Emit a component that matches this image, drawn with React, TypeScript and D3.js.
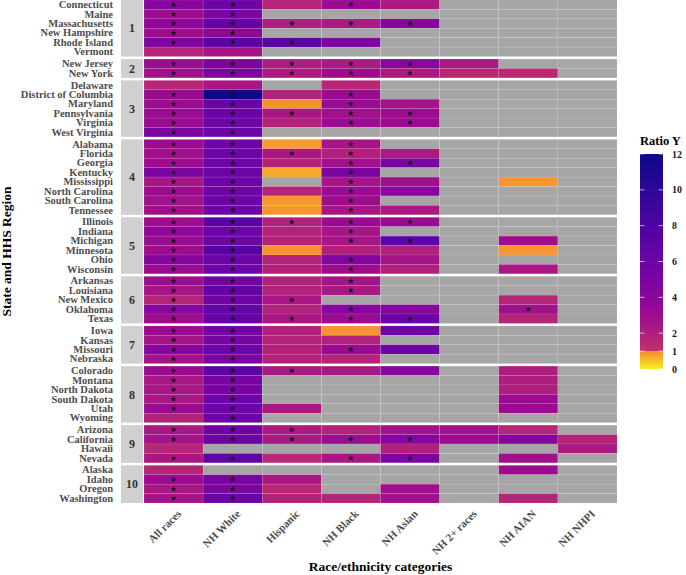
import React from 'react';
import * as d3 from 'd3';

const categories = ['All races', 'NH White', 'Hispanic', 'NH Black', 'NH Asian', 'NH 2+ races', 'NH AIAN', 'NH NHPI'];

const states = [
  'Connecticut', 'Maine', 'Massachusetts', 'New Hampshire', 'Rhode Island', 'Vermont',
  'New Jersey', 'New York',
  'Delaware', 'District of Columbia', 'Maryland', 'Pennsylvania', 'Virginia', 'West Virginia',
  'Alabama', 'Florida', 'Georgia', 'Kentucky', 'Mississippi', 'North Carolina', 'South Carolina', 'Tennessee',
  'Illinois', 'Indiana', 'Michigan', 'Minnesota', 'Ohio', 'Wisconsin',
  'Arkansas', 'Louisiana', 'New Mexico', 'Oklahoma', 'Texas',
  'Iowa', 'Kansas', 'Missouri', 'Nebraska',
  'Colorado', 'Montana', 'North Dakota', 'South Dakota', 'Utah', 'Wyoming',
  'Arizona', 'California', 'Hawaii', 'Nevada',
  'Alaska', 'Idaho', 'Oregon', 'Washington',
];

const regions = [
  1, 1, 1, 1, 1, 1,
  2, 2,
  3, 3, 3, 3, 3, 3,
  4, 4, 4, 4, 4, 4, 4, 4,
  5, 5, 5, 5, 5, 5,
  6, 6, 6, 6, 6,
  7, 7, 7, 7,
  8, 8, 8, 8, 8, 8,
  9, 9, 9, 9,
  10, 10, 10, 10,
];

// ratio values by column (null = no data)
const allRaces = [
  4.2, 3.0, 3.8, 3.0, 4.6, 1.7,
  3.0, 2.8,
  1.6, 3.2, 3.0, 3.2, 3.2, 5.0,
  3.0, 2.8, 3.0, 5.0, 2.5, 3.0, 2.8, 2.8,
  3.0, 3.8, 3.2, 3.0, 4.4, 3.2,
  3.0, 2.6, 1.7, 4.2, 3.0,
  3.2, 2.6, 4.2, 2.6,
  3.2, 2.4, 2.4, 2.4, 3.2, 1.8,
  2.4, 2.6, 1.6, 2.4,
  1.6, 3.2, 2.4, 2.6,
];
const nhWhite = [
  6.0, 5.0, 6.5, 3.8, 7.0, 2.5,
  5.0, 5.0,
  2.4, 12, 6.2, 6.2, 6.0, 6.0,
  5.6, 6.0, 6.0, 6.0, 6.0, 6.0, 6.0, 6.0,
  7.2, 6.0, 6.0, 7.2, 6.0, 6.0,
  5.6, 6.5, 5.6, 6.5, 6.5,
  5.6, 5.2, 6.0, 5.2,
  7.0, 5.2, 5.2, 6.0, 6.0, 6.0,
  5.8, 6.2, null, 6.8,
  null, 5.2, 5.0, 6.2,
];
const hispanic = [
  1.7, null, 2.0, null, 7.0, null,
  2.0, 2.2,
  null, 1.8, 0.93, 2.4, 1.8, null,
  0.82, 2.4, 1.8, 0.7, null, 1.7, 0.88, 0.88,
  1.8, 1.8, 1.8, 0.88, 1.8, 1.8,
  1.8, 1.8, 2.4, 1.8, 2.4,
  1.8, 1.8, 1.8, 1.8,
  2.4, null, null, null, 2.4, null,
  2.2, 2.2, null, 1.5,
  null, 2.3, 1.5, 1.8,
];
const nhBlack = [
  3.2, null, 2.2, null, 4.8, null,
  2.2, 3.0,
  1.6, 3.2, 3.2, 2.8, 3.2, null,
  2.5, 1.9, 2.8, 5.0, 2.5, 3.2, 3.0, 2.5,
  3.2, 2.5, 2.5, 1.9, 4.6, 3.0,
  2.6, 2.4, null, 4.2, 3.2,
  0.9, 1.8, 3.2, 1.7,
  2.4, null, null, null, null, null,
  1.8, 3.0, null, 2.4,
  null, null, null, 1.7,
];
const nhAsian = [
  2.2, null, 4.4, null, null, null,
  4.2, 2.2,
  null, null, 2.6, 3.0, 3.2, null,
  null, 2.2, 5.0, null, 2.8, 4.2, null, 2.2,
  3.2, null, 7.0, 1.9, 2.6, 1.9,
  null, null, null, 4.2, 6.0,
  6.0, null, 6.0, null,
  4.2, null, null, null, null, null,
  2.6, 4.4, 1.9, 5.0,
  null, null, 2.8, 2.8,
];
const nhMulti = [
  null, null, null, null, null, null,
  2.2, 1.5,
  null, null, null, null, null, null,
  null, null, null, null, null, null, null, null,
  null, null, null, null, null, null,
  null, null, null, null, null,
  null, null, null, null,
  null, null, null, null, null, null,
  2.6, 3.0, null, null,
  null, null, null, null,
];
const nhAian = [
  null, null, null, null, null, null,
  null, 1.5,
  null, null, null, null, null, null,
  null, null, null, null, 0.9, null, null, null,
  null, null, 3.0, 0.9, null, 2.4,
  null, null, 1.6, 2.8, 1.7,
  null, null, null, null,
  2.0, 2.0, 2.0, 3.2, 3.2, null,
  1.6, 4.6, null, 2.8,
  3.0, null, null, 1.7,
];
const nhNhpi = [
  null, null, null, null, null, null,
  null, null,
  null, null, null, null, null, null,
  null, null, null, null, null, null, null, null,
  null, null, null, null, null, null,
  null, null, null, null, null,
  null, null, null, null,
  null, null, null, null, null, null,
  null, 1.7, 2.2, null,
  null, null, null, null,
];

// significance markers (1 = starred)
const starAll = [1, 1, 1, 1, 1, 0, 1, 1, 0, 1, 1, 1, 1, 1, 1, 1, 1, 1, 1, 1, 1, 1, 1, 1, 1, 1, 1, 1, 1, 1, 1, 1, 1, 1, 1, 1, 1, 1, 1, 1, 1, 1, 0, 1, 1, 0, 1, 0, 1, 1, 1];
const starWhite = [1, 1, 1, 1, 1, 0, 1, 1, 0, 1, 1, 1, 1, 1, 1, 1, 1, 1, 1, 1, 1, 1, 1, 1, 1, 1, 1, 1, 1, 1, 1, 1, 1, 1, 1, 1, 1, 1, 1, 1, 1, 1, 1, 1, 1, 0, 1, 0, 1, 1, 1];
const starHisp = [0, 0, 1, 0, 1, 0, 1, 1, 0, 0, 0, 1, 0, 0, 0, 1, 0, 0, 0, 0, 0, 0, 1, 0, 0, 0, 0, 0, 0, 0, 1, 0, 1, 0, 0, 0, 0, 1, 0, 0, 0, 0, 0, 1, 1, 0, 0, 0, 0, 0, 0];
const starBlack = [1, 0, 1, 0, 0, 0, 1, 1, 0, 1, 1, 1, 1, 0, 1, 1, 1, 1, 1, 1, 1, 1, 1, 1, 1, 0, 1, 1, 1, 1, 0, 1, 1, 0, 0, 1, 0, 0, 0, 0, 0, 0, 0, 0, 1, 0, 1, 0, 0, 0, 0];
const starAsian = [0, 0, 1, 0, 0, 0, 1, 1, 0, 0, 0, 1, 1, 0, 0, 0, 1, 0, 0, 0, 0, 0, 1, 0, 1, 0, 0, 0, 0, 0, 0, 0, 1, 0, 0, 0, 0, 0, 0, 0, 0, 0, 0, 0, 1, 0, 1, 0, 0, 0, 0];
const starAian = states.map((s) => (s === 'Oklahoma' ? 1 : 0));
const starNone = states.map(() => 0);

const legendTicks = [0, 1, 2, 4, 6, 8, 10, 12];

const columns = [allRaces, nhWhite, hispanic, nhBlack, nhAsian, nhMulti, nhAian, nhNhpi];
const starCols = [starAll, starWhite, starHisp, starBlack, starAsian, starNone, starAian, starNone];

const W = 686;
const H = 575;
const plotLeft = 144;
const plotRight = 617;
const plotTop = 0;
const plotBottom = 503;
const gap = 2.5;
const stripLeft = 121;
const serif = '"Liberation Serif", "Times New Roman", serif';

const color = d3
  .scaleLinear<string>()
  .domain([0, 0.9999, 1, 2, 3, 4, 6, 8, 10, 12])
  .range(['#F4EE22', '#F68A30', '#C2316B', '#AE1E7E', '#9E0C8E', '#8A069C', '#6C04A6', '#4E03A2', '#30069A', '#0D0887'])
  .interpolate(d3.interpolateRgb)
  .clamp(true);

const starPath = d3.symbol().type(d3.symbolStar).size(11)()!;

export default function App() {
  const regionIds = Array.from(new Set(regions));
  const rowH = (plotBottom - plotTop - gap * (regionIds.length - 1)) / states.length;

  const x = d3.scaleBand<string>().domain(categories).range([plotLeft, plotRight]);

  // one band scale per facet panel
  let cursor = plotTop;
  const panels = regionIds.map((r) => {
    const rs = states.filter((_, i) => regions[i] === r);
    const top = cursor;
    const bottom = top + rs.length * rowH;
    cursor = bottom + gap;
    const y = d3.scaleBand<string>().domain(rs).range([top, bottom]);
    return { r, rs, top, bottom, y };
  });
  const yOf = (s: string) => {
    const p = panels.find((pp) => pp.rs.includes(s))!;
    return p.y(s)!;
  };

  const legY = d3.scaleLinear().domain([0, 12]).range([369, 154]);
  const legX = 640;
  const legW = 23;
  const gradStops = d3.range(0, 12.01, 0.1).flatMap((v) => {
    const out = [{ off: 1 - v / 12, c: color(v) }];
    if (Math.abs(v - 1) < 0.01) out.unshift({ off: 1 - 0.9999 / 12, c: color(0.9999) });
    return out;
  }).sort((a, b) => a.off - b.off);

  return (
    <svg width={W} height={H} style={{ position: 'absolute', left: 0, top: 0, background: '#fff' }} fontFamily={serif}>
      <defs>
        <linearGradient id="legGrad" x1="0" y1="0" x2="0" y2="1">
          {gradStops.map((s, i) => (
            <stop key={i} offset={s.off} stopColor={s.c} />
          ))}
        </linearGradient>
      </defs>

      {panels.map((p) => (
        <g key={p.r}>
          <rect x={stripLeft} y={p.top} width={plotLeft - stripLeft - 1} height={p.bottom - p.top} fill="#D0D0D0" />
          <text x={(stripLeft + plotLeft - 1) / 2} y={(p.top + p.bottom) / 2} dy="0.35em" textAnchor="middle"
            fontSize={12} fontWeight="bold" fill="#333">{p.r}</text>
        </g>
      ))}

      {columns.map((col, ci) =>
        states.map((s, si) => {
          const v = col[si];
          return (
            <rect key={`${ci}-${si}`} x={x(categories[ci])} y={yOf(s)} width={x.bandwidth()} height={rowH}
              fill={v == null ? '#A6A6A6' : color(v)} stroke="rgba(255,255,255,0.18)" strokeWidth={0.5} />
          );
        })
      )}

      {columns.map((col, ci) =>
        states.map((s, si) =>
          starCols[ci][si] && col[si] != null ? (
            <path key={`st-${ci}-${si}`} d={starPath}
              transform={`translate(${x(categories[ci])! + x.bandwidth() / 2},${yOf(s) + rowH / 2})`} fill="#111" />
          ) : null
        )
      )}

      {states.map((s) => (
        <text key={`lab-${s}`} x={113} y={yOf(s) + rowH / 2} dy="0.33em" textAnchor="end" fontSize={10.5}
          fontWeight="bold" fill="#4D4D4D">{s}</text>
      ))}

      {categories.map((c) => (
        <text key={`xl-${c}`} transform={`translate(${x(c)! + x.bandwidth() / 2 + 3},${509}) rotate(-45)`}
          textAnchor="end" dy="0.7em" fontSize={11} fontWeight="bold" fill="#4D4D4D">{c}</text>
      ))}

      <text x={(plotLeft + plotRight) / 2} y={571} textAnchor="middle" fontSize={13.5} fontWeight="bold" fill="#000">
        Race/ethnicity categories
      </text>
      <text transform={`translate(11,${(plotTop + plotBottom) / 2}) rotate(-90)`} textAnchor="middle" fontSize={13.5}
        fontWeight="bold" fill="#000">State and HHS Region</text>

      <text x={legX} y={145} fontSize={12.5} fontWeight="bold" fill="#000">Ratio Y</text>
      <rect x={legX} y={legY(12)} width={legW} height={legY(0) - legY(12)} fill="url(#legGrad)" />
      {legendTicks.map((t) => (
        <g key={`lt-${t}`}>
          <line x1={legX} x2={legX + 4.5} y1={legY(t)} y2={legY(t)} stroke="#fff" strokeWidth={0.8} opacity={0.8} />
          <line x1={legX + legW - 4.5} x2={legX + legW} y1={legY(t)} y2={legY(t)} stroke="#fff" strokeWidth={0.8} opacity={0.8} />
          <text x={legX + legW + 9} y={legY(t)} dy="0.35em" fontSize={10} fontWeight="bold" fill="#1A1A1A">{t}</text>
        </g>
      ))}
    </svg>
  );
}
